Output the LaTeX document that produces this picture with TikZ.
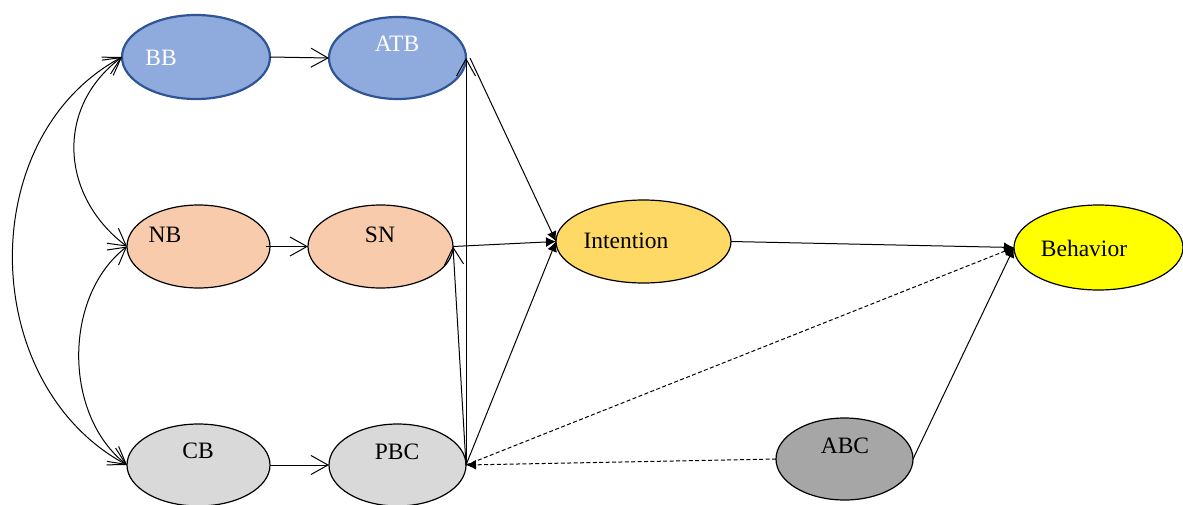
\documentclass[tikz,border=0pt]{standalone}
\usepackage{fontspec}
\setmainfont{Liberation Serif}
\usetikzlibrary{shapes.geometric,arrows.meta}
\definecolor{bbfill}{HTML}{8FAADC}
\definecolor{bbdraw}{HTML}{2F5597}
\definecolor{nbfill}{HTML}{F8CBAD}
\definecolor{cbfill}{HTML}{D9D9D9}
\definecolor{intfill}{HTML}{FFD966}
\definecolor{behfill}{HTML}{FFFF00}
\definecolor{abcfill}{HTML}{A6A6A6}
\begin{document}
\begin{tikzpicture}[x=0.5pt,y=-0.5pt,
  line width=0.5pt,
  >={Straight Barb[length=8.5pt,width=9.5pt]},
  ell/.style={ellipse,draw=black,inner sep=0pt,outer sep=0pt,line width=0.6pt},
  blueell/.style={ell,fill=bbfill,draw=bbdraw,line width=1.1pt},
  lbl/.style={font=\fontsize{11.75}{14}\selectfont,inner sep=0pt},
  fillarr/.style={-{Latex[length=5pt,width=5pt]}},
  dsh/.style={dash pattern=on 2pt off 1.2pt}
]
\useasboundingbox (0,0) rectangle (1183,504);
% ellipses
\node[blueell,minimum width=74pt,minimum height=42pt] (BB) at (196,57) {};
\node[blueell,minimum width=68.5pt,minimum height=41pt] (ATB) at (397.5,58) {};
\node[ell,fill=nbfill,minimum width=71.5pt,minimum height=41.5pt] (NB) at (198.5,246.5) {};
\node[ell,fill=nbfill,minimum width=72.5pt,minimum height=41.5pt] (SN) at (380.5,246.5) {};
\node[ell,fill=cbfill,minimum width=71.5pt,minimum height=41pt] (CB) at (198.5,465) {};
\node[ell,fill=cbfill,minimum width=68.5pt,minimum height=41pt] (PBC) at (397.5,465) {};
\node[ell,fill=intfill,minimum width=87.5pt,minimum height=41.5pt] (INT) at (643.5,241.5) {};
\node[ell,fill=behfill,minimum width=84.5pt,minimum height=42.5pt] (BEH) at (1098.5,247.5) {};
\node[ell,fill=abcfill,minimum width=68.5pt,minimum height=41pt] (ABC) at (844.5,459) {};
% labels
\node[lbl,text=white] (tBB) at (161,58) {BB};
\node[lbl,text=white] (tATB) at (397,44) {ATB};
\node[lbl] (tNB) at (165,235) {NB};
\node[lbl] (tSN) at (380,235) {SN};
\node[lbl] (tCB) at (198,451) {CB};
\node[lbl] (tPBC) at (397,452) {PBC};
\node[lbl] (tINT) at (626,241) {Intention};
\node[lbl] (tBEH) at (1084,248) {Behavior};
\node[lbl] (tABC) at (845,446) {ABC};
% correlations on the left
\draw[<->] (BB.west) .. controls (55,107) and (60,196) .. (NB.west);
\draw[<->] (BB.west) .. controls (-27,137) and (-22,385) .. (CB.west);
\draw[<->] (NB.west) .. controls (63,296) and (63,415) .. (CB.west);
% beliefs to attitudes
\draw[->] (BB.east) -- (ATB.west);
\draw[->] ([xshift=-2pt]NB.east) -- (SN.west);
\draw[->] (CB.east) -- (PBC.west);
% PBC to ATB and SN
\draw[->] (PBC.east) -- (ATB.east);
\draw[->] (PBC.east) -- (SN.east);
% to intention
\draw[fillarr] ([xshift=2pt]ATB.east) -- (INT.west);
\draw[fillarr] (SN.east) -- (INT.west);
\draw[fillarr] (PBC.east) -- (INT.west);
% to behavior
\draw[fillarr] (INT.east) -- (BEH.west);
\draw[fillarr] (ABC.east) -- (BEH.west);
\draw[fillarr,dsh] (PBC.east) -- (BEH.west);
\draw[fillarr,dsh] (ABC.west) -- (PBC.east);
\end{tikzpicture}
\end{document}
